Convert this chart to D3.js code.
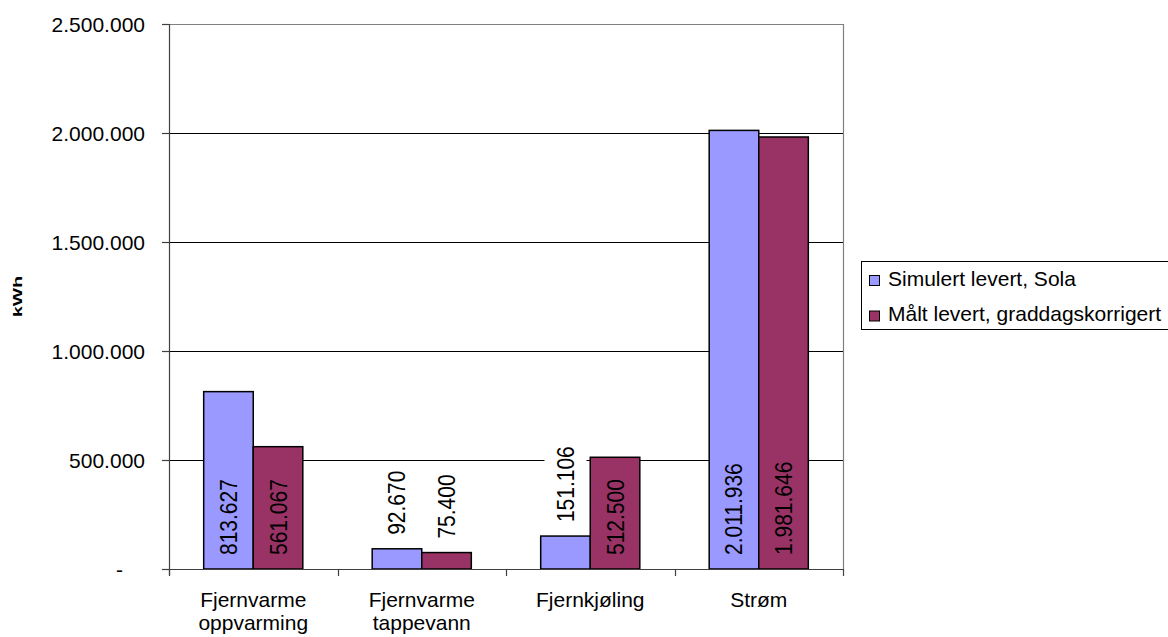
<!DOCTYPE html>
<html>
<head>
<meta charset="utf-8">
<script src="https://cdn.jsdelivr.net/npm/d3@7"></script>
<style>
  html, body { margin: 0; padding: 0; background: #fff; }
  svg { display: block; font-family: "Liberation Sans", Arial, sans-serif; }
</style>
</head>
<body>
<svg id="chart" width="1168" height="637"></svg>
<script>
// Energy delivered per purpose (kWh)
const categories = [["Fjernvarme", "oppvarming"], ["Fjernvarme", "tappevann"], ["Fjernkjøling"], ["Strøm"]];
const seriesNames = ["Simulert levert, Sola", "Målt levert, graddagskorrigert"];
const simulert = [813627, 92670, 151106, 2011936];
const maalt = [561067, 75400, 512500, 1981646];
const yTicks = [0, 500000, 1000000, 1500000, 2000000, 2500000];
const yTickLabels = ["-", "500.000", "1.000.000", "1.500.000", "2.000.000", "2.500.000"];
const colors = ["#9999FF", "#993366"];

const svg = d3.select("#chart");
const plot = { left: 169, right: 843, top: 24, bottom: 569 };

const fmt = v => d3.format(",")(v).replace(/,/g, ".");

const x0 = d3.scaleBand()
  .domain(d3.range(categories.length))
  .range([plot.left, plot.right])
  .paddingInner(0).paddingOuter(0);
const catW = x0.bandwidth();
const barW = catW / 3.4;           // gap width 140 %
const x1 = d3.scaleBand()
  .domain([0, 1])
  .range([(catW - 2 * barW) / 2, (catW + 2 * barW) / 2]);

const y = d3.scaleLinear().domain([0, 2500000]).range([plot.bottom, plot.top]);

// gridlines
svg.append("g").selectAll("line")
  .data(yTicks.filter(t => t > 0 && t < 2500000))
  .join("line")
  .attr("x1", plot.left).attr("x2", plot.right)
  .attr("y1", d => Math.round(y(d)) + 0.5).attr("y2", d => Math.round(y(d)) + 0.5)
  .attr("stroke", "#000").attr("stroke-width", 1);

// plot border (top, right)
svg.append("path")
  .attr("d", `M${plot.left},${plot.top + 0.5}H${plot.right + 0.5}V${plot.bottom}`)
  .attr("fill", "none").attr("stroke", "#808080").attr("stroke-width", 1.2);

// bars
const data = [simulert, maalt];
const groups = svg.append("g").selectAll("g")
  .data(categories.map((c, i) => i))
  .join("g")
  .attr("transform", i => `translate(${x0(i)},0)`);

groups.selectAll("rect")
  .data(i => data.map((s, k) => ({ k, v: s[i] })))
  .join("rect")
  .attr("x", d => x1(d.k))
  .attr("width", x1.bandwidth())
  .attr("y", d => y(d.v))
  .attr("height", d => y(0) - y(d.v))
  .attr("fill", d => colors[d.k])
  .attr("stroke", "#000")
  .attr("stroke-width", 1.5);

// value labels (rotated); short bars get their label above the bar
const labelG = groups.selectAll("g.lbl")
  .data(i => data.map((s, k) => ({ k, v: s[i] })))
  .join("g").attr("class", "lbl");

labelG.each(function (d) {
  const g = d3.select(this);
  const cx = x1(d.k) + x1.bandwidth() / 2;
  const h = y(0) - y(d.v);
  const inside = h > 100;
  const startY = inside ? y(0) - 14 : y(d.v) - 14;
  const t = g.append("text")
    .attr("transform", `translate(${cx + 8.5},${startY}) rotate(-90) scale(1,1.14)`)
    .attr("text-anchor", "start")
    .attr("font-size", 21)
    .attr("fill", "#000")
    .text(fmt(d.v));
  if (!inside) {
    const len = t.node().getComputedTextLength();
    g.insert("rect", "text")
      .attr("x", cx - 21).attr("width", 42)
      .attr("y", startY - len - 4).attr("height", len + 8)
      .attr("fill", "#fff");
  }
});

// y axis
svg.append("line")
  .attr("x1", plot.left + 0.5).attr("x2", plot.left + 0.5)
  .attr("y1", plot.top).attr("y2", plot.bottom + 6)
  .attr("stroke", "#404040").attr("stroke-width", 1.2);
const yt = svg.append("g").selectAll("g").data(yTicks).join("g");
yt.append("line")
  .attr("x1", plot.left - 7).attr("x2", plot.left)
  .attr("y1", d => Math.round(y(d)) + 0.5).attr("y2", d => Math.round(y(d)) + 0.5)
  .attr("stroke", "#404040").attr("stroke-width", 1.2);
yt.append("text")
  .attr("x", (d, i) => i === 0 ? 123 : 145)
  .attr("y", d => y(d) + 7.5)
  .attr("text-anchor", "end")
  .attr("font-size", 21)
  .text((d, i) => yTickLabels[i]);

// x axis
svg.append("line")
  .attr("x1", plot.left - 7).attr("x2", plot.right + 1)
  .attr("y1", plot.bottom + 0.5).attr("y2", plot.bottom + 0.5)
  .attr("stroke", "#404040").attr("stroke-width", 1.2);
svg.append("g").selectAll("line")
  .data(d3.range(categories.length + 1))
  .join("line")
  .attr("x1", i => Math.round(plot.left + i * catW) + 0.5)
  .attr("x2", i => Math.round(plot.left + i * catW) + 0.5)
  .attr("y1", plot.bottom).attr("y2", plot.bottom + 7)
  .attr("stroke", "#404040").attr("stroke-width", 1.2);

const xl = svg.append("g").selectAll("text")
  .data(categories.map((c, i) => ({ c, i })))
  .join("text")
  .attr("text-anchor", "middle")
  .attr("font-size", 21)
  .attr("x", d => x0(d.i) + catW / 2)
  .attr("y", 606.5);
xl.selectAll("tspan")
  .data(d => d.c.map((line, j) => ({ line, j, x: x0(d.i) + catW / 2 })))
  .join("tspan")
  .attr("x", d => d.x)
  .attr("dy", d => d.j === 0 ? 0 : 23)
  .text(d => d.line);

// y axis title, drawn slightly stretched along its length
svg.append("text")
  .attr("transform", `translate(22,296.5) rotate(-90) scale(1.44,1)`)
  .attr("text-anchor", "middle")
  .attr("font-size", 13.5)
  .attr("font-weight", "bold")
  .text("kWh");

// legend
const lg = svg.append("g");
lg.append("rect")
  .attr("x", 861.5).attr("y", 261.5)
  .attr("width", 320).attr("height", 68)
  .attr("fill", "#fff").attr("stroke", "#000").attr("stroke-width", 1);
const items = lg.selectAll("g.item")
  .data(seriesNames.map((n, k) => ({ n, k })))
  .join("g").attr("class", "item")
  .attr("transform", d => `translate(0,${d.k * 35.5})`);
items.append("rect")
  .attr("x", 869.5).attr("y", 275.5)
  .attr("width", 10).attr("height", 10)
  .attr("fill", d => colors[d.k]).attr("stroke", "#000").attr("stroke-width", 1);
items.append("text")
  .attr("x", 888).attr("y", 285.5)
  .attr("font-size", 21)
  .text(d => d.n);
</script>
</body>
</html>
